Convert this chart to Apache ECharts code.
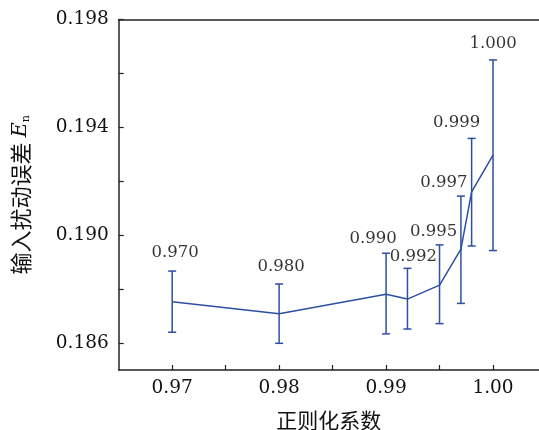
<!DOCTYPE html>
<html>
<head>
<meta charset="utf-8">
<script src="https://cdn.jsdelivr.net/npm/echarts@6/dist/echarts.min.js"></script>
<style>
  html, body { margin: 0; padding: 0; background: #fff; }
  #chart { width: 539px; height: 430px; }
</style>
</head>
<body>
<div id="chart"></div>
<script>
// regularization coefficient (plot position) and its label
var xPos = [0.970, 0.980, 0.990, 0.992, 0.995, 0.997, 0.998, 1.000];
var pointLabels = ['0.970', '0.980', '0.990', '0.992', '0.995', '0.997', '0.999', '1.000'];
// mean input perturbation error and error bar ends
var meanVal = [0.18753, 0.18709, 0.18781, 0.18763, 0.18815, 0.18948, 0.19161, 0.19297];
var upperVal = [0.18867, 0.18819, 0.18933, 0.18877, 0.18964, 0.19145, 0.19359, 0.19650];
var lowerVal = [0.18640, 0.18599, 0.18634, 0.18652, 0.18672, 0.18747, 0.18960, 0.18943];
// axis ticks / labels (x axis is cut off at the right edge of the figure)
var xMin = 0.965, xMax = 1.0043;
var xTicks = [0.970, 0.975, 0.980, 0.985, 0.990, 0.995, 1.000];
var xTickLabels = [0.97, 0.98, 0.99, 1.00];
var yTicks = [0.186, 0.188, 0.190, 0.192, 0.194, 0.196, 0.198];
var yTickLabels = [0.186, 0.190, 0.194, 0.198];

// label placement relative to top of error bar [dx, dy]
var labelOffsets = [[3, -18], [2, -17], [-13, -15], [6, -12], [-6, -13], [-17, -13], [-15, -16], [0, -16]];

var blue = '#2B50A2';
var serif = 'DejaVu Serif';
var axisColor = '#222';

var chart = echarts.init(document.getElementById('chart'));

var lineData = [], barData = [], labelData = [];
for (var i = 0; i < xPos.length; i++) {
  lineData.push([xPos[i], meanVal[i]]);
  barData.push([xPos[i], lowerVal[i], upperVal[i]]);
  labelData.push({
    value: [xPos[i], upperVal[i]],
    label: { formatter: pointLabels[i], offset: labelOffsets[i] }
  });
}

var option = {
  backgroundColor: '#fff',
  animation: false,
  grid: { left: 118.7, top: 19.5, bottom: 60, right: 0, outerBoundsMode: 'none', containLabel: false },
  xAxis: [{
    type: 'value', min: xMin, max: xMax,
    name: '正则化系数', nameLocation: 'middle', nameGap: 40,
    nameTextStyle: { fontFamily: 'Noto Sans CJK SC', fontSize: 21, color: '#111' },
    axisLine: { show: true, lineStyle: { color: axisColor, width: 1.5 } },
    axisTick: { show: true, inside: true, length: 5, customValues: xTicks, lineStyle: { color: axisColor, width: 1.2 } },
    axisLabel: {
      customValues: xTickLabels, margin: 9,
      fontFamily: serif, fontSize: 18.5, color: '#111',
      formatter: function (v) { return v.toFixed(2); }
    },
    splitLine: { show: false }
  }, {
    // top frame line
    type: 'value', min: xMin, max: xMax, position: 'top',
    axisLine: { show: true, lineStyle: { color: axisColor, width: 1.5 } },
    axisTick: { show: false }, axisLabel: { show: false }, splitLine: { show: false }
  }],
  yAxis: {
    type: 'value', min: 0.185, max: 0.198,
    name: '输入扰动误差 {i|E}{s|n}', nameLocation: 'middle', nameGap: 87,
    nameTextStyle: {
      fontFamily: 'Noto Sans CJK SC', fontSize: 22, color: '#111',
      rich: {
        i: { fontFamily: serif, fontStyle: 'italic', fontSize: 21, color: '#111' },
        s: { fontFamily: serif, fontSize: 11, color: '#111', verticalAlign: 'bottom', padding: [9, 0, 0, 0] }
      }
    },
    axisLine: { show: true, lineStyle: { color: axisColor, width: 1.5 } },
    axisTick: { show: true, inside: true, length: 5, customValues: yTicks, lineStyle: { color: axisColor, width: 1.2 } },
    axisLabel: {
      customValues: yTickLabels, margin: 10,
      fontFamily: serif, fontSize: 18.5, color: '#111',
      formatter: function (v) { return v.toFixed(3); }
    },
    splitLine: { show: false }
  },
  series: [
    {
      type: 'line', data: lineData, symbol: 'none',
      lineStyle: { color: blue, width: 1.5 }, z: 3
    },
    {
      type: 'custom', data: barData, z: 4,
      renderItem: function (params, api) {
        var lo = api.coord([api.value(0), api.value(1)]);
        var hi = api.coord([api.value(0), api.value(2)]);
        var w = 4;
        var st = { stroke: blue, lineWidth: 1.5 };
        return {
          type: 'group',
          children: [
            { type: 'line', shape: { x1: lo[0], y1: lo[1], x2: hi[0], y2: hi[1] }, style: st },
            { type: 'line', shape: { x1: hi[0] - w, y1: hi[1], x2: hi[0] + w, y2: hi[1] }, style: st },
            { type: 'line', shape: { x1: lo[0] - w, y1: lo[1], x2: lo[0] + w, y2: lo[1] }, style: st }
          ]
        };
      }
    },
    {
      type: 'scatter', data: labelData, symbolSize: 0, z: 5,
      label: {
        show: true, position: 'inside',
        fontFamily: serif, fontSize: 16.5, color: '#000'
      }
    }
  ]
};

chart.setOption(option);
</script>
</body>
</html>
